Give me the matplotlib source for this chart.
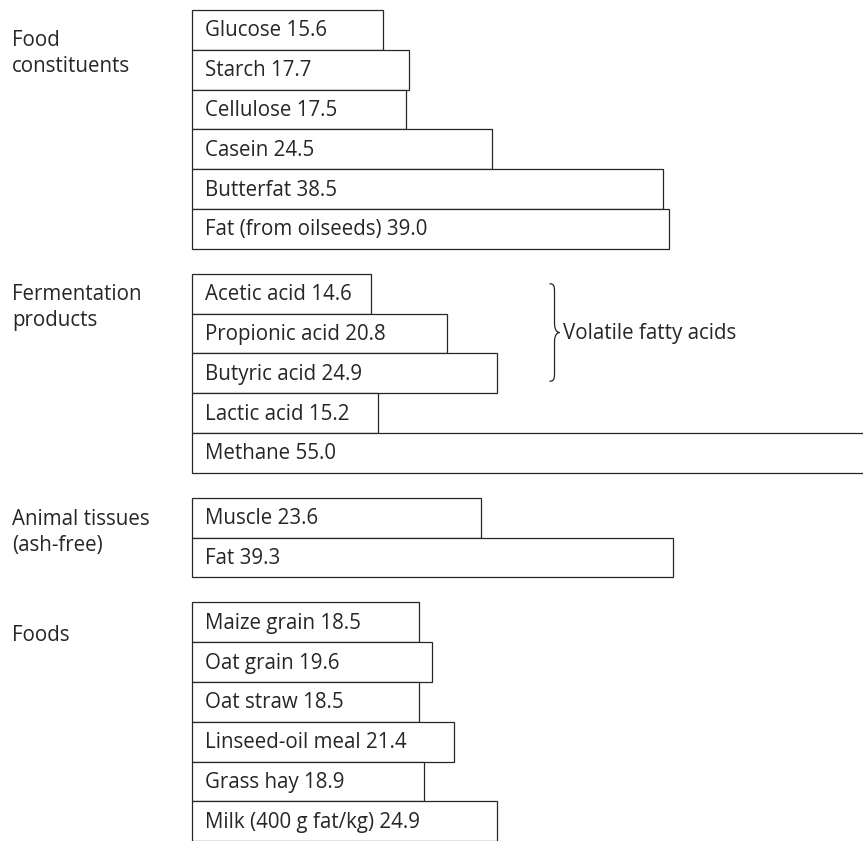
import matplotlib.pyplot as plt
from matplotlib.path import Path
from matplotlib.patches import PathPatch

plt.rcParams['font.family'] = ['Open Sans', 'DejaVu Sans']

groups = ['Food\nconstituents', 'Fermentation\nproducts', 'Animal tissues\n(ash-free)', 'Foods']
items = [
    ['Glucose', 'Starch', 'Cellulose', 'Casein', 'Butterfat', 'Fat (from oilseeds)'],
    ['Acetic acid', 'Propionic acid', 'Butyric acid', 'Lactic acid', 'Methane'],
    ['Muscle', 'Fat'],
    ['Maize grain', 'Oat grain', 'Oat straw', 'Linseed-oil meal', 'Grass hay', 'Milk (400 g fat/kg)'],
]
values = [
    [15.6, 17.7, 17.5, 24.5, 38.5, 39.0],
    [14.6, 20.8, 24.9, 15.2, 55.0],
    [23.6, 39.3],
    [18.5, 19.6, 18.5, 21.4, 18.9, 24.9],
]
brace_label = 'Volatile fatty acids'
brace_items = (0, 2)  # acetic .. butyric in group 2

# layout (pixels on the vertical axis, value units on the horizontal)
W, H = 863, 841
px_per_unit = 12.2
x0_px = 192
row_h = 39.8
gap = 25
top = 10
ink = '#262626'
fs = 14.8
label_dy = [0, -10, -9, 3]   # group label top relative to first bar centre

fig = plt.figure(figsize=(W / 100, H / 100), dpi=100)
ax = fig.add_axes([0, 0, 1, 1])
ax.set_xlim(-x0_px / px_per_unit, (W - x0_px - 2) / px_per_unit)
ax.set_ylim(H, 0)
ax.axis('off')

pad = 13 / px_per_unit
y = top
for g, (names, vals) in enumerate(zip(items, values)):
    centers = []
    for name, v in zip(names, vals):
        c = y + row_h / 2
        centers.append(c)
        ax.barh(c, v, height=row_h, left=0, color='white', edgecolor=ink, linewidth=0.9)
        ax.text(pad, c + 1, f'{name} {v:.1f}', va='center', ha='left', fontsize=fs, color=ink)
        y += row_h
    ax.text(-x0_px / px_per_unit + 12 / px_per_unit, centers[0] + label_dy[g], groups[g],
            va='top', ha='left', fontsize=fs, color=ink, linespacing=1.32)
    if g == 1:
        ferm_centers = centers
    y += gap

# curly brace beside the volatile fatty acids
b_top = ferm_centers[brace_items[0]] - 10
b_bot = ferm_centers[brace_items[1]] + 8
b_mid = (b_top + b_bot) / 2
bx = 29.2
bw = 10 / px_per_unit
r = 9
verts = [
    (bx, b_top), (bx + bw * 0.5, b_top), (bx + bw * 0.5, b_top + r * 0.4), (bx + bw * 0.5, b_top + r),
    (bx + bw * 0.5, b_mid - r),
    (bx + bw * 0.5, b_mid - 2), (bx + bw * 0.8, b_mid), (bx + bw, b_mid),
    (bx + bw * 0.8, b_mid), (bx + bw * 0.5, b_mid + 2), (bx + bw * 0.5, b_mid + r),
    (bx + bw * 0.5, b_bot - r),
    (bx + bw * 0.5, b_bot - r * 0.4), (bx + bw * 0.5, b_bot), (bx, b_bot),
]
codes = [Path.MOVETO, Path.CURVE4, Path.CURVE4, Path.CURVE4, Path.LINETO,
         Path.CURVE4, Path.CURVE4, Path.CURVE4, Path.CURVE4, Path.CURVE4, Path.CURVE4,
         Path.LINETO, Path.CURVE4, Path.CURVE4, Path.CURVE4]
ax.add_patch(PathPatch(Path(verts, codes), fill=False, edgecolor=ink, linewidth=0.9))
ax.text(bx + bw + 3 / px_per_unit, b_mid + 1, brace_label, va='center', ha='left',
        fontsize=fs, color=ink)

fig.savefig('out.png', dpi=100, facecolor='white')
